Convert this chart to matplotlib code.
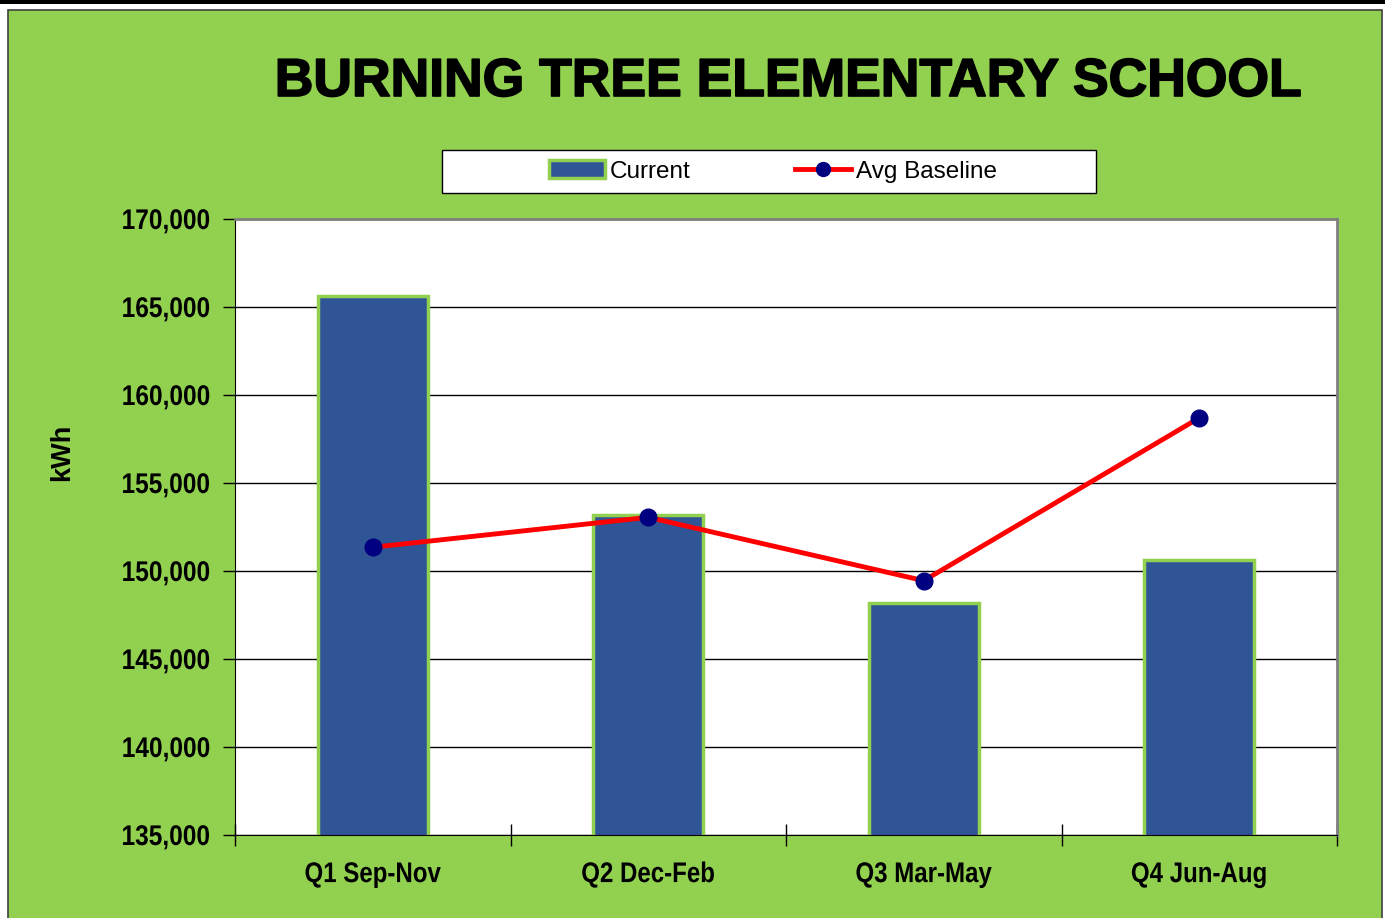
import numpy as np
import matplotlib as mpl
from matplotlib import pyplot as plt
from matplotlib.patches import Rectangle, Patch
from matplotlib.lines import Line2D
from matplotlib.ticker import FuncFormatter, FixedLocator
from matplotlib.transforms import Affine2D
import matplotlib.patheffects as pe

quarters = ['Q1 Sep-Nov', 'Q2 Dec-Feb', 'Q3 Mar-May', 'Q4 Jun-Aug']
current = [165600, 153200, 148200, 150600]
baseline = [151350, 153050, 149450, 158700]

GREEN = '#92D050'
BLUE = '#2F5597'

mpl.rcParams['font.family'] = ['Liberation Sans', 'DejaVu Sans']


class Squeeze(pe.AbstractPathEffect):
    """squeeze text horizontally (no narrow font installed)"""
    def __init__(self, sx, anchor='center'):
        super().__init__()
        self.sx = sx
        self.anchor = anchor

    def draw_path(self, renderer, gc, tpath, affine, rgbFace=None):
        v = affine.transform(tpath.vertices)
        x0 = v[:, 0].max() if self.anchor == 'right' else (v[:, 0].min() + v[:, 0].max()) / 2
        sq = affine + Affine2D().translate(-x0, 0).scale(self.sx, 1).translate(x0, 0)
        renderer.draw_path(gc, tpath, sq, rgbFace)


fig = plt.figure(figsize=(13.85, 9.18), dpi=100)
W, H = 1385, 918

# outer frame: black strip on top, green panel
fig.patches.append(Rectangle((0, 1 - 4 / H), 1, 4 / H, transform=fig.transFigure,
                             facecolor='black', edgecolor='none', zorder=-10))
fig.patches.append(Rectangle((8 / W, -0.01), 1374 / W, 1 - 10 / H + 0.01,
                             transform=fig.transFigure, facecolor=GREEN,
                             edgecolor='#404040', linewidth=1.2, zorder=-10))
# legend box
fig.patches.append(Rectangle((442 / W, 1 - 193 / H), 654 / W, 43 / H,
                             transform=fig.transFigure, facecolor='white',
                             edgecolor='black', linewidth=1, zorder=-5))

ax = fig.add_axes([235 / W, 1 - 835 / H, (1337 - 235) / W, (835 - 219) / H])
ax.set_facecolor('white')

x = np.arange(len(quarters))
ax.bar(x, current, width=0.4, color=BLUE, edgecolor=GREEN, linewidth=2.5, zorder=2)
ax.plot(x, baseline, color='#FF0000', linewidth=3.5, marker='o', markersize=12,
        markerfacecolor='#000080', markeredgecolor='#000080', zorder=3)

ax.set_xlim(-0.5, 3.5)
ax.set_ylim(135000, 170000)
ax.set_yticks(np.arange(135000, 170001, 5000))
ax.yaxis.set_major_formatter(FuncFormatter(lambda v, p: f'{int(v):,}'))
ax.grid(axis='y', color='black', linewidth=1, zorder=1)

ax.xaxis.set_major_locator(FixedLocator([-0.5, 0.5, 1.5, 2.5, 3.5]))
ax.xaxis.set_minor_locator(FixedLocator(x))
ax.set_xticklabels([])
ax.set_xticks(x, quarters, minor=True)
ax.tick_params(axis='x', which='major', direction='inout', length=16, width=1)
ax.tick_params(axis='x', which='minor', length=0, pad=19.5)
ax.tick_params(axis='y', direction='out', length=9, width=1, pad=9)
for lab in ax.get_xticklabels(minor=True):
    lab.set_fontweight('bold')
    lab.set_fontsize(20.5)
    lab.set_path_effects([Squeeze(0.845)])
for lab in ax.get_yticklabels():
    lab.set_fontweight('bold')
    lab.set_fontsize(20.5)
    lab.set_path_effects([Squeeze(0.86, 'right')])

ax.spines['left'].set_color('black')
ax.spines['bottom'].set_color('black')
for s in ['top', 'right']:
    ax.spines[s].set_color('#808080')
    ax.spines[s].set_linewidth(2)

fig.text(62 / W, 1 - 452 / H, 'kWh', rotation=90, ha='center', va='center',
         fontsize=19.5, fontweight='bold')

fig.text(789 / W, 1 - 82 / H, 'BURNING TREE ELEMENTARY SCHOOL', ha='center', va='center',
         fontsize=38.5, fontweight='heavy',
         path_effects=[pe.withStroke(linewidth=1.2, foreground='black')])

handles = [Patch(facecolor=BLUE, edgecolor=GREEN, linewidth=2.5),
           Line2D([], [], color='#FF0000', linewidth=3.5, marker='o', markersize=10,
                  markerfacecolor='#000080', markeredgecolor='#000080')]
leg = fig.legend(handles, ['Current', 'Avg Baseline'], loc='center',
                 bbox_to_anchor=(773 / W, 1 - 171.5 / H), ncol=2, frameon=False,
                 fontsize=17.5, handlelength=2.3, handletextpad=0.2,
                 columnspacing=4.3)

plt.savefig('out.png', dpi=100)
